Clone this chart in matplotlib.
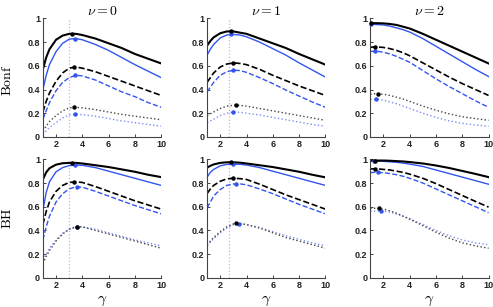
import numpy as np
import matplotlib
matplotlib.use("Agg")
import matplotlib.pyplot as plt

plt.rcParams['mathtext.fontset'] = 'cm'

# shared gamma grid
GAMMA = [1, 1.25, 1.5, 2, 2.5, 3, 3.5, 4, 5, 6, 7, 8, 9, 10]

# ---- Bonf, nu = 0 ----
bonf0_black_solid = [0.57, 0.67, 0.74, 0.82, 0.855, 0.87, 0.87, 0.86, 0.83, 0.79, 0.75, 0.70, 0.66, 0.62]
bonf0_blue_solid = [0.40, 0.52, 0.61, 0.72, 0.79, 0.825, 0.83, 0.82, 0.78, 0.73, 0.67, 0.61, 0.555, 0.50]
bonf0_black_dash = [0.21, 0.30, 0.37, 0.47, 0.54, 0.58, 0.59, 0.58, 0.55, 0.51, 0.47, 0.43, 0.39, 0.35]
bonf0_blue_dash = [0.15, 0.22, 0.29, 0.39, 0.46, 0.50, 0.52, 0.515, 0.48, 0.43, 0.38, 0.34, 0.29, 0.25]
bonf0_black_dot = [0.05, 0.09, 0.13, 0.18, 0.22, 0.245, 0.25, 0.245, 0.23, 0.21, 0.19, 0.175, 0.16, 0.145]
bonf0_blue_dot = [0.02, 0.05, 0.08, 0.12, 0.16, 0.185, 0.19, 0.188, 0.175, 0.155, 0.135, 0.12, 0.105, 0.09]
bonf0_peak_x = [3.2, 3.45, 3.37, 3.45, 3.4, 3.45]
bonf0_peak_y = [0.87, 0.83, 0.59, 0.52, 0.25, 0.19]

# ---- Bonf, nu = 1 ----
bonf1_black_solid = [0.77, 0.81, 0.84, 0.875, 0.89, 0.89, 0.88, 0.87, 0.83, 0.79, 0.75, 0.70, 0.655, 0.61]
bonf1_blue_solid = [0.69, 0.74, 0.78, 0.835, 0.86, 0.865, 0.86, 0.845, 0.80, 0.745, 0.69, 0.625, 0.565, 0.505]
bonf1_black_dash = [0.46, 0.50, 0.54, 0.59, 0.615, 0.625, 0.62, 0.61, 0.57, 0.52, 0.475, 0.43, 0.39, 0.35]
bonf1_blue_dash = [0.38, 0.42, 0.46, 0.52, 0.55, 0.5625, 0.56, 0.545, 0.50, 0.45, 0.395, 0.345, 0.295, 0.25]
bonf1_black_dot = [0.18, 0.195, 0.21, 0.24, 0.26, 0.267, 0.266, 0.26, 0.24, 0.22, 0.20, 0.18, 0.16, 0.14]
bonf1_blue_dot = [0.12, 0.135, 0.15, 0.18, 0.20, 0.21, 0.208, 0.20, 0.185, 0.165, 0.145, 0.125, 0.105, 0.09]
bonf1_peak_x = [2.79, 2.8, 2.94, 2.95, 3.19, 2.99]
bonf1_peak_y = [0.89, 0.866, 0.625, 0.5625, 0.267, 0.21]

# ---- Bonf, nu = 2 ----
bonf2_black_solid = [0.96, 0.96, 0.96, 0.958, 0.953, 0.945, 0.93, 0.915, 0.87, 0.82, 0.77, 0.72, 0.67, 0.62]
bonf2_blue_solid = [0.95, 0.95, 0.948, 0.945, 0.935, 0.92, 0.905, 0.885, 0.83, 0.765, 0.70, 0.635, 0.57, 0.51]
bonf2_black_dash = [0.755, 0.76, 0.76, 0.755, 0.745, 0.73, 0.71, 0.685, 0.625, 0.565, 0.505, 0.45, 0.40, 0.35]
bonf2_blue_dash = [0.72, 0.723, 0.723, 0.715, 0.70, 0.68, 0.655, 0.63, 0.56, 0.49, 0.425, 0.365, 0.305, 0.25]
bonf2_black_dot = [0.36, 0.364, 0.365, 0.36, 0.35, 0.335, 0.32, 0.30, 0.26, 0.225, 0.195, 0.17, 0.155, 0.14]
bonf2_blue_dot = [0.315, 0.318, 0.318, 0.31, 0.295, 0.28, 0.26, 0.24, 0.20, 0.165, 0.135, 0.115, 0.10, 0.09]
bonf2_peak_x = [1.05, 1.05, 1.38, 1.35, 1.58, 1.45]
bonf2_peak_y = [0.96, 0.95, 0.76, 0.723, 0.365, 0.318]

# ---- BH, nu = 0 ----
bh0_black_solid = [0.83, 0.89, 0.925, 0.955, 0.967, 0.97, 0.97, 0.965, 0.95, 0.935, 0.915, 0.895, 0.87, 0.85]
bh0_blue_solid = [0.57, 0.72, 0.81, 0.895, 0.93, 0.947, 0.952, 0.95, 0.93, 0.90, 0.87, 0.84, 0.81, 0.78]
bh0_black_dash = [0.45, 0.56, 0.64, 0.73, 0.78, 0.805, 0.81, 0.805, 0.77, 0.73, 0.69, 0.65, 0.615, 0.58]
bh0_blue_dash = [0.32, 0.43, 0.52, 0.64, 0.71, 0.75, 0.768, 0.765, 0.73, 0.69, 0.65, 0.61, 0.575, 0.54]
bh0_black_dot = [0.12, 0.18, 0.23, 0.31, 0.37, 0.41, 0.43, 0.43, 0.40, 0.37, 0.34, 0.31, 0.28, 0.25]
bh0_blue_dot = [0.15, 0.20, 0.25, 0.32, 0.375, 0.41, 0.428, 0.43, 0.41, 0.38, 0.35, 0.32, 0.295, 0.27]
bh0_peak_x = [3.19, 3.45, 3.39, 3.62, 3.62, 3.6]
bh0_peak_y = [0.97, 0.952, 0.81, 0.769, 0.431, 0.43]

# ---- BH, nu = 1 ----
bh1_black_solid = [0.93, 0.945, 0.957, 0.97, 0.975, 0.975, 0.972, 0.965, 0.95, 0.935, 0.915, 0.895, 0.87, 0.848]
bh1_blue_solid = [0.85, 0.89, 0.915, 0.945, 0.957, 0.96, 0.958, 0.952, 0.93, 0.90, 0.87, 0.84, 0.81, 0.78]
bh1_black_dash = [0.71, 0.75, 0.78, 0.815, 0.835, 0.84, 0.837, 0.83, 0.79, 0.745, 0.70, 0.66, 0.62, 0.58]
bh1_blue_dash = [0.59, 0.64, 0.69, 0.745, 0.78, 0.792, 0.793, 0.785, 0.75, 0.71, 0.665, 0.62, 0.58, 0.54]
bh1_black_dot = [0.28, 0.31, 0.34, 0.39, 0.43, 0.455, 0.458, 0.45, 0.42, 0.38, 0.34, 0.31, 0.28, 0.25]
bh1_blue_dot = [0.27, 0.30, 0.33, 0.38, 0.42, 0.448, 0.455, 0.45, 0.425, 0.39, 0.355, 0.325, 0.295, 0.27]
bh1_peak_x = [2.79, 2.99, 2.95, 3.19, 3.22, 3.4]
bh1_peak_y = [0.975, 0.96, 0.84, 0.794, 0.459, 0.455]

# ---- BH, nu = 2 ----
bh2_black_solid = [0.99, 0.99, 0.99, 0.99, 0.988, 0.985, 0.982, 0.977, 0.965, 0.948, 0.927, 0.902, 0.877, 0.85]
bh2_blue_solid = [0.985, 0.985, 0.985, 0.983, 0.979, 0.975, 0.968, 0.96, 0.94, 0.91, 0.88, 0.85, 0.82, 0.79]
bh2_black_dash = [0.918, 0.92, 0.92, 0.915, 0.91, 0.90, 0.89, 0.875, 0.84, 0.795, 0.745, 0.695, 0.645, 0.597]
bh2_blue_dash = [0.888, 0.89, 0.89, 0.887, 0.88, 0.87, 0.857, 0.84, 0.80, 0.75, 0.70, 0.65, 0.60, 0.55]
bh2_black_dot = [0.585, 0.586, 0.587, 0.58, 0.565, 0.545, 0.52, 0.495, 0.44, 0.385, 0.335, 0.295, 0.27, 0.25]
bh2_blue_dot = [0.56, 0.562, 0.563, 0.562, 0.555, 0.54, 0.52, 0.50, 0.45, 0.40, 0.355, 0.32, 0.295, 0.28]
bh2_peak_x = [1.38, 1.3, 1.38, 1.6, 1.64, 1.79]
bh2_peak_y = [0.99, 0.985, 0.92, 0.89, 0.586, 0.563]

# vertical reference line position per column (None = not shown)
VLINE_X = [3.0, 2.65, None]

NU_LABELS = [r'$\nu = 0$', r'$\nu = 1$', r'$\nu = 2$']
ROW_LABELS = [r'$\mathrm{Bonf}$', r'$\mathrm{BH}$']

PANELS = [
    [(bonf0_black_solid, bonf0_blue_solid, bonf0_black_dash, bonf0_blue_dash,
      bonf0_black_dot, bonf0_blue_dot, bonf0_peak_x, bonf0_peak_y),
     (bonf1_black_solid, bonf1_blue_solid, bonf1_black_dash, bonf1_blue_dash,
      bonf1_black_dot, bonf1_blue_dot, bonf1_peak_x, bonf1_peak_y),
     (bonf2_black_solid, bonf2_blue_solid, bonf2_black_dash, bonf2_blue_dash,
      bonf2_black_dot, bonf2_blue_dot, bonf2_peak_x, bonf2_peak_y)],
    [(bh0_black_solid, bh0_blue_solid, bh0_black_dash, bh0_blue_dash,
      bh0_black_dot, bh0_blue_dot, bh0_peak_x, bh0_peak_y),
     (bh1_black_solid, bh1_blue_solid, bh1_black_dash, bh1_blue_dash,
      bh1_black_dot, bh1_blue_dot, bh1_peak_x, bh1_peak_y),
     (bh2_black_solid, bh2_blue_solid, bh2_black_dash, bh2_blue_dash,
      bh2_black_dot, bh2_blue_dot, bh2_peak_x, bh2_peak_y)],
]

BLACK = '#000000'
BLUE = '#3355ee'
LIGHT_BLUE = '#7f8ff5'
GREY = '#444444'
# style per curve: colour, linestyle, linewidth
STYLES = [
    (BLACK, '-', 1.5),
    (BLUE, '-', 1.0),
    (BLACK, '--', 1.2),
    (BLUE, '--', 1.0),
    (GREY, ':', 1.0),
    (LIGHT_BLUE, ':', 1.0),
]
DOT_COLORS = [BLACK, BLUE, BLACK, BLUE, BLACK, BLUE]

fig = plt.figure(figsize=(4.93, 3.07), dpi=100)

col_left = [0.087, 0.42, 0.751]
row_bottom = [0.554, 0.095]
width = 0.24
height = 0.386

for r in range(2):
    for c in range(3):
        ax = fig.add_axes([col_left[c], row_bottom[r], width, height])
        data = PANELS[r][c]
        curves = data[:6]
        px, py = data[6], data[7]

        if VLINE_X[c] is not None:
            ax.axvline(VLINE_X[c], color='#d9a3ee', linestyle=':', linewidth=0.9, zorder=1)

        # draw blue dotted first so black dotted sits on top
        order = [5, 4, 3, 2, 1, 0]
        for i in order:
            col, ls, lw = STYLES[i]
            ax.plot(GAMMA, curves[i], color=col, linestyle=ls, linewidth=lw, zorder=2)
        for i in order:
            ax.plot(px[i], py[i], 'o', color=DOT_COLORS[i], markersize=3.2,
                    markeredgewidth=0, zorder=3, clip_on=False)

        ax.set_xlim(1, 10)
        ax.set_ylim(0, 1)
        ax.set_xticks([2, 4, 6, 8, 10])
        ax.set_yticks([0, 0.2, 0.4, 0.6, 0.8, 1])
        ax.set_yticklabels(['0', '0.2', '0.4', '0.6', '0.8', '1'])
        ax.tick_params(direction='in', length=2.5, width=0.6, labelsize=6.5, pad=2,
                       colors='#222222')
        for lab in ax.get_xticklabels() + ax.get_yticklabels():
            lab.set_fontweight('bold')
            lab.set_family('Liberation Sans')
        ax.spines['top'].set_visible(False)
        ax.spines['right'].set_visible(False)
        for side in ['left', 'bottom']:
            ax.spines[side].set_linewidth(0.8)
            ax.spines[side].set_color('#444444')

        if r == 0:
            ax.set_title(NU_LABELS[c], fontsize=10, pad=2)

# row labels and shared x labels
fig.text(7 / 493, 1 - 80 / 307, ROW_LABELS[0], rotation=90, fontsize=10,
         ha='center', va='center')
fig.text(7 / 493, 1 - 218 / 307, ROW_LABELS[1], rotation=90, fontsize=10,
         ha='center', va='center')
for c in range(3):
    fig.text(col_left[c] + width / 2, 1 - 300 / 307, r'$\gamma$', fontsize=11,
             ha='center', va='center')

fig.savefig('out.png', dpi=100)
